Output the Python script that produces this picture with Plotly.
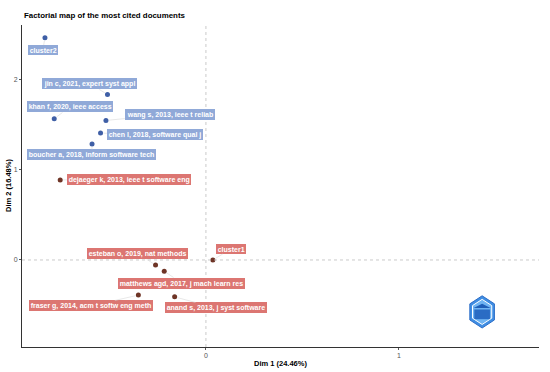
import plotly.graph_objects as go
import math

# ---- data ----
docs = ["cluster2", "jin c, 2021, expert syst appl", "khan f, 2020, ieee access",
        "wang s, 2013, ieee t reliab", "chen l, 2018, software qual j",
        "boucher a, 2018, inform software tech", "dejaeger k, 2013, ieee t software eng",
        "esteban o, 2019, nat methods", "matthews agd, 2017, j mach learn res",
        "fraser g, 2014, acm t softw eng meth", "anand s, 2013, j syst software", "cluster1"]
dim1 = [-0.834, -0.51, -0.786, -0.518, -0.546, -0.59, -0.755, -0.261, -0.216, -0.35, -0.162, 0.036]
dim2 = [2.47, 1.84, 1.57, 1.55, 1.41, 1.29, 0.89, -0.055, -0.126, -0.39, -0.41, 0.0]
cluster = [2, 2, 2, 2, 2, 2, 1, 1, 1, 1, 1, 1]
# repelled label positions (data units)
lab_x = [-0.845, -0.601, -0.705, -0.187, -0.264, -0.591, -0.399, -0.352, -0.124, -0.596, 0.052, 0.130]
lab_y = [2.333, 1.956, 1.700, 1.622, 1.392, 1.167, 0.889, 0.067, -0.256, -0.511, -0.533, 0.122]

title = "Factorial map of the most cited documents"
xlab = "Dim 1 (24.46%)"
ylab = "Dim 2 (16.48%)"
xticks = [0, 1]
yticks = [0, 1, 2]

pt_col = {2: "#3f5fa6", 1: "#6e3426"}
box_col = {2: "#90a9d8", 1: "#dc7672"}
FONT = "Liberation Sans, Arial"

fig = go.Figure()
fig.add_trace(go.Scatter(
    x=dim1, y=dim2, mode="markers",
    marker=dict(size=5, color=[pt_col[c] for c in cluster]),
    hoverinfo="text", text=docs, showlegend=False))

for d, x, y, lx, ly, c in zip(docs, dim1, dim2, lab_x, lab_y, cluster):
    fig.add_annotation(
        x=x, y=y, ax=lx, ay=ly, axref="x", ayref="y", xref="x", yref="y",
        text="<b>" + d + "</b>", showarrow=True, arrowhead=0, arrowwidth=0.6,
        arrowcolor="#d8d8d8", standoff=3,
        font=dict(family=FONT, size=7, color="white"),
        bgcolor=box_col[c], borderpad=1.7, borderwidth=0)

# bibliometrix-like logo (hexagon)
cx, cy, rx, ry = 0.890, 0.109, 0.0275, 0.05
def hexpath(sx, sy):
    pts = []
    for k in range(6):
        a = math.radians(90 + 60 * k)
        pts.append((cx + sx * math.cos(a), cy + sy * math.sin(a)))
    return "M " + " L ".join(f"{px:.4f},{py:.4f}" for px, py in pts) + " Z"
fig.add_shape(type="path", xref="paper", yref="paper", path=hexpath(rx, ry),
              fillcolor="#3f8ee3", line=dict(color="#2f6fc8", width=1))
fig.add_shape(type="path", xref="paper", yref="paper", path=hexpath(rx * 0.78, ry * 0.78),
              fillcolor="#6fb4f2", line=dict(color="white", width=1))
fig.add_shape(type="rect", xref="paper", yref="paper",
              x0=cx - rx * 0.55, x1=cx + rx * 0.55, y0=cy - ry * 0.45, y1=cy + ry * 0.15,
              fillcolor="#2a6cc4", line=dict(width=0))
fig.add_shape(type="path", xref="paper", yref="paper",
              path=f"M {cx - rx*0.6:.4f},{cy + ry*0.25:.4f} L {cx:.4f},{cy + ry*0.5:.4f} L {cx + rx*0.6:.4f},{cy + ry*0.25:.4f} Z",
              fillcolor="#1f5fb8", line=dict(width=0))

fig.add_hline(y=0, line=dict(color="#bdbdbd", width=0.8, dash="3px,3px"))
fig.add_vline(x=0, line=dict(color="#bdbdbd", width=0.8, dash="3px,3px"))

axis_common = dict(showgrid=False, zeroline=False, showline=True, linecolor="#333333",
                   linewidth=1, ticks="outside", ticklen=2, tickcolor="#555555",
                   automargin=False,
                   tickfont=dict(family=FONT, size=7, color="#555555"))
fig.update_xaxes(range=[-0.953, 1.726], tickvals=xticks, ticktext=[str(t) for t in xticks],
                 **axis_common)
fig.update_yaxes(range=[-0.967, 2.611], tickvals=yticks, ticktext=[str(t) for t in yticks],
                 **axis_common)

fig.add_annotation(text="<b>" + xlab + "</b>", xref="paper", yref="paper",
                   x=0.5, y=-0.05, xanchor="center", yanchor="middle", showarrow=False,
                   font=dict(family=FONT, size=7.5, color="black"))
fig.add_annotation(text="<b>" + ylab + "</b>", xref="paper", yref="paper",
                   x=-0.027, y=0.5, xanchor="center", yanchor="middle", showarrow=False,
                   textangle=-90, font=dict(family=FONT, size=7.5, color="black"))
fig.add_annotation(text="<b>" + title + "</b>", xref="paper", yref="paper",
                   x=0, y=1 + 10 / 322, xanchor="left", yanchor="middle", showarrow=False,
                   font=dict(family=FONT, size=7.9, color="black"))

fig.update_layout(
    width=550, height=372,
    margin=dict(l=22, r=11, t=25, b=25, autoexpand=False),
    paper_bgcolor="white", plot_bgcolor="white",
)

fig.write_html("out.html", config={"displayModeBar": False},
               post_script="document.body.style.margin='0';document.body.style.padding='0';")
